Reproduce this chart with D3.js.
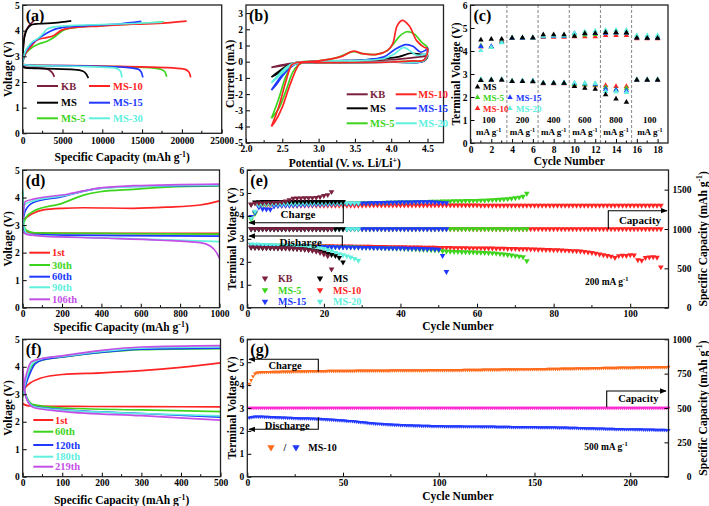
<!DOCTYPE html>
<html><head><meta charset="utf-8">
<script src="https://cdn.jsdelivr.net/npm/d3@7"></script>
<style>
body{margin:0;background:#fff}
svg{font-family:"Liberation Serif","Times New Roman",serif;font-weight:bold}
</style></head><body>
<svg id="c" width="709" height="506"></svg>
<script>
// ---------------- DATA ----------------
const seriesNames = ["KB","MS","MS-5","MS-10","MS-15","MS-20"];
// (a) first discharge / charge curves [capacity mAh/g, voltage V]
const aKB_d  = [[0,2.68],[200,2.58],[1500,2.55],[2800,2.52],[3400,2.45],[3800,2.32],[3980,2.2]];
const aKB_c  = [[0,2.9],[100,3.5],[300,3.9],[700,4.15],[1100,4.3],[1450,4.4]];
const aMS_d  = [[0,2.62],[300,2.55],[3000,2.52],[6500,2.48],[7600,2.42],[8000,2.3],[8250,2.15]];
const aMS_c  = [[0,3.0],[150,3.6],[400,3.95],[800,4.15],[1200,4.24],[2000,4.27],[4000,4.3],[6100,4.38]];
const aMS5_d = [[0,2.68],[1000,2.65],[8000,2.62],[14000,2.58],[17000,2.52],[17800,2.42],[18100,2.2]];
const aMS5_c = [[0,2.78],[200,3.0],[1000,3.3],[2000,3.48],[3000,3.58],[4000,3.75],[5000,4.0],[6500,4.12],[10000,4.2],[14000,4.26],[17700,4.34]];
const aMS10_d= [[0,2.68],[1000,2.66],[10000,2.62],[18000,2.56],[20300,2.5],[20900,2.38],[21100,2.18]];
const aMS10_c= [[0,2.78],[200,3.0],[1000,3.37],[1760,3.63],[3000,3.73],[3850,3.8],[4900,4.02],[6400,4.12],[9700,4.18],[13900,4.25],[18100,4.3],[20600,4.37]];
const aMS15_d= [[0,2.68],[1000,2.65],[8000,2.62],[13000,2.57],[14500,2.5],[14900,2.38],[15100,2.18]];
const aMS15_c= [[0,2.78],[200,3.05],[1000,3.45],[2000,3.7],[3000,3.9],[4000,4.05],[5500,4.15],[8000,4.2],[12000,4.26],[14900,4.36]];
const aMS30_d= [[0,2.68],[1000,2.65],[8000,2.6],[11500,2.55],[12200,2.45],[12400,2.3],[12450,2.18]];
const aMS30_c= [[0,2.78],[200,3.1],[1000,3.5],[2000,3.72],[2600,3.9],[3000,4.05],[4000,4.15],[6000,4.2],[10000,4.24],[14000,4.28],[17600,4.33]];
const aTicksX = [0,5000,10000,15000,20000,25000];

// (b) CV loops [potential V, current mA]
const bKB  = [[2.35,-0.35],[2.5,-0.2],[2.7,-0.05],[3.0,0],[3.5,0.05],[4.0,0.12],[4.3,0.25],[4.45,0.33],[4.5,0.35],[4.45,0.05],[4.0,-0.03],[3.0,-0.05],[2.7,-0.1],[2.5,-0.25],[2.35,-0.35]];
const bMS  = [[2.35,-0.95],[2.45,-0.6],[2.55,-0.3],[2.65,-0.1],[2.8,-0.02],[3.2,0.05],[3.6,0.1],[3.9,0.2],[4.1,0.3],[4.27,0.52],[4.4,0.45],[4.5,0.4],[4.45,0.05],[4.0,-0.02],[3.0,-0.05],[2.7,-0.1],[2.55,-0.4],[2.45,-0.7],[2.35,-0.95]];
const bMS5 = [[2.35,-3.5],[2.45,-2.3],[2.55,-0.9],[2.65,-0.15],[2.75,-0.02],[3.0,0.05],[3.25,0.25],[3.48,0.62],[3.6,0.5],[3.8,0.45],[3.95,0.7],[4.05,1.2],[4.12,1.6],[4.22,1.85],[4.32,1.7],[4.42,1.2],[4.5,0.85],[4.45,0.1],[4.3,0.05],[4.0,-0.02],[3.0,-0.06],[2.75,-0.12],[2.65,-0.6],[2.55,-1.8],[2.45,-2.9],[2.35,-3.5]];
const bMS10= [[2.35,-4.0],[2.45,-2.8],[2.55,-1.2],[2.63,-0.2],[2.7,-0.05],[3.0,0.05],[3.3,0.3],[3.48,0.65],[3.6,0.5],[3.8,0.45],[3.95,0.7],[4.02,1.1],[4.08,2.2],[4.15,2.55],[4.25,2.2],[4.35,1.3],[4.45,0.9],[4.5,0.8],[4.45,0.1],[4.3,0.05],[4.0,-0.02],[3.5,-0.05],[3.0,-0.06],[2.75,-0.1],[2.7,-0.4],[2.6,-1.5],[2.5,-2.8],[2.4,-3.7],[2.35,-4.0]];
const bMS15= [[2.35,-1.75],[2.45,-1.1],[2.55,-0.5],[2.65,-0.12],[2.8,-0.02],[3.2,0.05],[3.6,0.1],[3.9,0.3],[4.05,0.75],[4.2,1.05],[4.3,0.95],[4.4,0.6],[4.47,0.7],[4.5,0.85],[4.45,0.08],[4.0,-0.02],[3.0,-0.05],[2.7,-0.1],[2.6,-0.4],[2.5,-0.9],[2.42,-1.4],[2.35,-1.75]];
const bMS20= [[2.35,-1.3],[2.45,-0.8],[2.55,-0.35],[2.65,-0.08],[2.8,0],[3.2,0.05],[3.6,0.08],[3.9,0.2],[4.05,0.5],[4.17,0.88],[4.25,0.7],[4.35,0.4],[4.45,0.45],[4.5,0.5],[4.45,0.05],[4.0,-0.02],[3.0,-0.05],[2.7,-0.1],[2.6,-0.3],[2.5,-0.7],[2.35,-1.3]];
const bTicksX = [2.0,2.5,3.0,3.5,4.0,4.5];
const bTicksY = [-5,-4,-3,-2,-1,0,1,2,3];

// (c) rate test: terminal voltage per cycle (cycles 1..18)
const cRates = ["100","200","400","600","800","100"];
const cRateCenters = [1.75,5,8,11,14,17.25];
const cDividers = [3.5,6.5,9.5,12.5,15.5];
const cMS_c   = [4.48,4.51,4.52,4.57,4.58,4.58,4.71,4.71,4.71,4.64,4.76,4.77,4.81,4.81,4.80,4.57,4.56,4.56];
const cMS5_c  = [4.23,4.18,4.42,4.56,4.56,4.56,4.62,4.63,4.63,4.70,4.70,4.72,4.76,4.77,4.77,4.60,4.58,4.58];
const cMS10_c = [4.18,4.18,4.45,4.55,4.55,4.55,4.60,4.60,4.60,4.62,4.62,4.62,4.68,4.68,4.68,4.54,4.54,4.54];
const cMS15_c = [4.20,4.20,4.38,4.56,4.56,4.57,4.62,4.63,4.64,4.77,4.75,4.76,4.78,4.79,4.79,4.58,4.58,4.58];
const cMS20_c = [4.02,4.16,4.36,4.58,4.58,4.58,4.65,4.66,4.67,4.77,4.84,4.87,4.91,4.91,4.91,4.68,4.68,4.68];
const cMS_d   = [2.72,2.74,2.74,2.68,2.68,2.67,2.60,2.60,2.60,2.46,2.38,2.34,2.10,1.92,1.78,2.74,2.74,2.74];
const cMS5_d  = [2.74,2.74,2.75,2.69,2.69,2.69,2.60,2.59,2.60,2.55,2.54,2.52,2.42,2.32,2.38,2.74,2.74,2.75];
const cMS10_d = [2.73,2.73,2.74,2.68,2.68,2.68,2.58,2.58,2.58,2.52,2.53,2.49,2.50,2.46,2.46,2.73,2.73,2.73];
const cMS15_d = [2.74,2.74,2.75,2.69,2.70,2.70,2.60,2.61,2.61,2.59,2.58,2.56,2.34,2.31,2.28,2.74,2.74,2.74];
const cMS20_d = [2.76,2.76,2.76,2.70,2.70,2.70,2.62,2.62,2.62,2.60,2.60,2.59,2.24,2.23,2.20,2.76,2.76,2.76];

// (d) MS-10 selected cycles at 200 mA/g [capacity, voltage]
const d1_c  = [[0,3.18],[54,3.43],[105,3.55],[200,3.61],[310,3.63],[563,3.61],[732,3.65],[902,3.73],[1000,3.88]];
const d30_c = [[0,3.0],[20,3.3],[54,3.5],[200,3.79],[310,4.09],[393,4.21],[563,4.3],[732,4.38],[1000,4.42]];
const d60_c = [[0,3.1],[12,3.5],[54,3.82],[200,4.03],[310,4.23],[393,4.33],[563,4.4],[1000,4.44]];
const d90_c = [[0,3.2],[12,3.75],[54,3.88],[200,4.06],[360,4.3],[563,4.4],[1000,4.46]];
const d106_c= [[0,3.2],[12,3.85],[54,3.94],[226,4.12],[310,4.24],[393,4.35],[563,4.43],[1000,4.49]];
const d1_d  = [[0,2.9],[20,2.76],[60,2.71],[400,2.7],[1000,2.7]];
const d30_d = [[0,4.2],[5,3.0],[20,2.8],[60,2.72],[500,2.69],[1000,2.67]];
const d60_d = [[0,3.0],[15,2.7],[60,2.65],[500,2.62],[1000,2.6]];
const d90_d = [[0,4.3],[5,3.0],[20,2.7],[60,2.63],[500,2.52],[1000,2.4]];
const d106_d= [[0,2.75],[20,2.66],[100,2.6],[393,2.53],[700,2.45],[902,2.36],[953,2.24],[985,2.0],[1000,1.79]];
const dLabels = ["1st","30th","60th","90th","106th"];

// (e) cycling at 200 mA/g: terminal voltage per cycle; capacity per cycle (mAh/g)
const eKB_c = [4.50,4.55,4.56,4.56,4.57,4.57,4.58,4.58,4.60,4.64,4.70,4.76,4.77,4.77,4.78,4.78,4.79,4.80,4.83,4.88,4.92,5.05];
const eKB_d = [2.64,2.63,2.63,2.62,2.62,2.62,2.61,2.61,2.60,2.60,2.59,2.58,2.57,2.56,2.54,2.52,2.49,2.45,2.40,2.33,2.25,1.68];
const eKB_q = [1000,1000,1000,1000,1000,1000,1000,1000,1000,1000,1000,1000,1000,1000,1000,1000,1000,1000,1000,1000,1000,1000];
const eMS_c = [4.50,4.60,4.61,4.62,4.62,4.62,4.62,4.62,4.62,4.62,4.62,4.62,4.62,4.62,4.62,4.62,4.62,4.62,4.62,4.62,4.62,4.62,4.62,4.62,4.62];
const eMS_d = [2.62,2.61,2.61,2.60,2.60,2.60,2.60,2.59,2.59,2.59,2.58,2.58,2.57,2.56,2.55,2.53,2.51,2.48,2.45,2.41,2.36,2.31,2.26,2.18,1.98];
const eMS_q = [1000,1000,1000,1000,1000,1000,1000,1000,1000,1000,1000,1000,1000,1000,1000,1000,1000,1000,1000,1000,1000,1000,1000,1000,1000];
const eMS5_c = [3.85,4.10,4.45,4.48,4.49,4.50,4.50,4.50,4.51,4.51, 4.51,4.51,4.52,4.52,4.52,4.52,4.53,4.53,4.53,4.53,
  4.54,4.54,4.54,4.55,4.55,4.55,4.56,4.56,4.56,4.57, 4.57,4.57,4.58,4.58,4.58,4.59,4.59,4.59,4.60,4.60,
  4.60,4.61,4.61,4.61,4.62,4.62,4.62,4.63,4.63,4.63, 4.64,4.64,4.64,4.65,4.65,4.65,4.66,4.66,4.67,4.67,
  4.68,4.68,4.69,4.70,4.71,4.72,4.73,4.74,4.76,4.78, 4.81,4.85,4.98];
const eMS5_d = [2.74,2.73,2.72,2.72,2.71,2.71,2.71,2.70,2.70,2.70, 2.70,2.69,2.69,2.69,2.68,2.68,2.68,2.67,2.67,2.67,
  2.66,2.66,2.66,2.65,2.65,2.65,2.64,2.64,2.63,2.63, 2.62,2.62,2.61,2.61,2.60,2.60,2.59,2.59,2.58,2.58,
  2.57,2.56,2.56,2.55,2.54,2.53,2.53,2.52,2.51,2.50, 2.47,2.45,2.45,2.44,2.44,2.43,2.43,2.42,2.42,2.41,
  2.41,2.40,2.39,2.38,2.37,2.35,2.33,2.31,2.29,2.26, 2.24,2.21,2.04];
const eMS5_q = [1000,1000,1000,1000,1000,1000,1000,1000,1000,1000, 1000,1000,1000,1000,1000,1000,1000,1000,1000,1000,
  1000,1000,1000,1000,1000,1000,1000,1000,1000,1000, 1000,1000,1000,1000,1000,1000,1000,1000,1000,1000,
  1000,1000,1000,1000,1000,1000,1000,1000,1000,1000, 1000,1000,1000,1000,1000,1000,1000,1000,1000,1000,
  1000,1000,1000,1000,1000,1000,1000,1000,1000,1000, 1000,1000,1000];
const eMS10_c = [3.95,4.15,4.42,4.44,4.44,4.45,4.45,4.45,4.45,4.45, 4.46,4.46,4.46,4.46,4.46,4.46,4.46,4.46,4.46,4.46,
  4.46,4.46,4.46,4.46,4.46,4.46,4.46,4.46,4.46,4.46, 4.47,4.47,4.47,4.47,4.47,4.47,4.47,4.47,4.47,4.47,
  4.47,4.47,4.47,4.47,4.47,4.47,4.47,4.47,4.47,4.47, 4.47,4.47,4.47,4.47,4.47,4.47,4.47,4.47,4.47,4.47,
  4.46,4.46,4.46,4.46,4.46,4.46,4.46,4.46,4.46,4.46, 4.46,4.46,4.46,4.46,4.46,4.46,4.46,4.46,4.46,4.46,
  4.46,4.46,4.46,4.46,4.46,4.46,4.46,4.46,4.46,4.46, 4.46,4.46,4.46,4.46,4.46,4.46,4.46,4.46,4.46,4.46,
  4.46,4.46,4.46,4.46,4.46,4.46,4.46,4.46];
const eMS10_d = [2.75,2.74,2.73,2.73,2.72,2.72,2.72,2.72,2.71,2.71, 2.71,2.71,2.70,2.70,2.70,2.70,2.70,2.69,2.69,2.69,
  2.69,2.69,2.68,2.68,2.68,2.68,2.68,2.67,2.67,2.67, 2.67,2.67,2.66,2.66,2.66,2.66,2.65,2.65,2.65,2.65,
  2.65,2.64,2.64,2.64,2.64,2.63,2.63,2.63,2.63,2.62, 2.62,2.62,2.62,2.61,2.61,2.61,2.61,2.60,2.60,2.60,
  2.60,2.59,2.59,2.59,2.58,2.58,2.58,2.57,2.57,2.57, 2.56,2.56,2.56,2.55,2.55,2.54,2.54,2.53,2.53,2.52,
  2.52,2.51,2.50,2.49,2.48,2.47,2.46,2.44,2.42,2.40, 2.37,2.33,2.30,2.27,2.24,2.18,2.26,2.28,2.27,2.30,
  2.29,2.08,2.06,2.18,2.20,2.21,2.19,1.77];
const eMS10_q = [1000,1000,1000,1000,1000,1000,1000,1000,1000,1000, 1000,1000,1000,1000,1000,1000,1000,1000,1000,1000,
  1000,1000,1000,1000,1000,1000,1000,1000,1000,1000, 1000,1000,1000,1000,1000,1000,1000,1000,1000,1000,
  1000,1000,1000,1000,1000,1000,1000,1000,1000,1000, 1000,1000,1000,1000,1000,1000,1000,1000,1000,1000,
  1000,1000,1000,1000,1000,1000,1000,1000,1000,1000, 1000,1000,1000,1000,1000,1000,1000,1000,1000,1000,
  1000,1000,1000,1000,1000,1000,1000,1000,1000,1000, 1000,1000,1000,1000,1000,1000,1000,1000,1000,1000,
  1000,1000,1000,1000,1000,1000,1000,1000];
const eMS15_c = [3.97,4.15,4.38,4.30,4.29,4.28,4.42,4.44,4.45,4.46, 4.46,4.47,4.47,4.48,4.48,4.49,4.49,4.50,4.50,4.51,
  4.51,4.52,4.52,4.53,4.53,4.54,4.54,4.55,4.55,4.56, 4.56,4.57,4.57,4.58,4.58,4.58,4.59,4.59,4.59,4.60,
  4.60,4.60,4.60,4.61,4.61,4.61,4.61,4.61,4.60,4.59, 4.58,4.57];
const eMS15_d = [2.74,2.73,2.72,2.71,2.71,2.70,2.70,2.70,2.69,2.69, 2.69,2.68,2.68,2.68,2.67,2.67,2.67,2.66,2.66,2.66,
  2.65,2.65,2.65,2.64,2.64,2.64,2.63,2.63,2.63,2.62, 2.62,2.62,2.61,2.61,2.61,2.60,2.60,2.60,2.59,2.59,
  2.59,2.58,2.58,2.58,2.57,2.57,2.56,2.56,2.55,2.54, 2.27,1.57];
const eMS15_q = [1000,1000,1000,1000,1000,1000,1000,1000,1000,1000, 1000,1000,1000,1000,1000,1000,1000,1000,1000,1000,
  1000,1000,1000,1000,1000,1000,1000,1000,1000,1000, 1000,1000,1000,1000,1000,1000,1000,1000,1000,1000,
  1000,1000,1000,1000,1000,1000,1000,1000,1000,1000, 1000,1000];
const eMS20_c = [3.90,4.20,4.47,4.49,4.50,4.50,4.51,4.51,4.51,4.52, 4.52,4.52,4.52,4.53,4.53,4.53,4.53,4.54,4.54,4.54,
  4.54,4.55,4.55,4.55,4.55,4.56,4.56,4.56,4.56];
const eMS20_d = [2.77,2.76,2.76,2.75,2.75,2.74,2.74,2.73,2.73,2.72, 2.71,2.70,2.69,2.68,2.67,2.66,2.64,2.62,2.60,2.57,
  2.52,2.46,2.40,2.35,2.30,2.25,2.20,2.14,2.06];
const eMS20_q = [1000,1000,1000,1000,1000,1000,1000,1000,1000,1000, 1000,1000,1000,1000,1000,1000,1000,1000,1000,1000,
  1000,1000,1000,1000,1000,1000,1000,1000,1000];

// (f) MS-10 selected cycles at 500 mA/g
const f1_c  = [[0,3.15],[18,3.4],[44,3.58],[100,3.72],[200,3.78],[300,3.86],[400,3.98],[500,4.14]];
const f60_c = [[0,2.9],[10,3.5],[22,4.0],[44,4.22],[100,4.35],[200,4.52],[300,4.62],[500,4.66]];
const f120_c= [[0,3.0],[14,3.6],[31,4.1],[52,4.26],[100,4.36],[200,4.53],[300,4.64],[500,4.68]];
const f180_c= [[0,3.0],[12,3.7],[26,4.15],[50,4.3],[100,4.38],[200,4.56],[300,4.68],[500,4.72]];
const f219_c= [[0,3.1],[10,3.76],[22,4.18],[48,4.3],[100,4.4],[200,4.6],[300,4.72],[500,4.77]];
const f1_d  = [[0,2.65],[15,2.58],[100,2.56],[300,2.55],[500,2.54]];
const f60_d = [[0,3.3],[10,2.9],[27,2.62],[100,2.5],[300,2.43],[500,2.37]];
const f120_d= [[0,3.4],[10,2.85],[27,2.56],[100,2.44],[300,2.3],[500,2.17]];
const f180_d= [[0,3.5],[10,2.85],[27,2.55],[100,2.42],[300,2.3],[500,2.21]];
const f219_d= [[0,4.0],[8,2.9],[27,2.52],[100,2.38],[300,2.22],[500,2.06]];
const fLabels = ["1st","60th","120th","180th","219th"];

// (g) MS-10 at 500 mA/g, cycles 1..220
const gCharge = [4.05,4.22,4.38,4.50,4.54,4.55,4.56,4.56,4.57,4.57, 4.57,4.57,4.58,4.58,4.58,4.58,4.58,4.59,4.59,4.59,
  4.59,4.59,4.59,4.60,4.60,4.60,4.60,4.60,4.60,4.60, 4.60,4.61,4.61,4.61,4.61,4.61,4.61,4.61,4.61,4.61,
  4.61,4.62,4.62,4.62,4.62,4.62,4.62,4.62,4.62,4.62, 4.62,4.62,4.62,4.62,4.62,4.62,4.63,4.63,4.63,4.63,
  4.63,4.63,4.63,4.63,4.63,4.63,4.63,4.63,4.63,4.63, 4.63,4.63,4.63,4.63,4.64,4.64,4.64,4.64,4.64,4.64,
  4.64,4.64,4.64,4.64,4.64,4.64,4.64,4.64,4.64,4.64, 4.64,4.64,4.64,4.64,4.65,4.65,4.65,4.65,4.65,4.65,
  4.65,4.65,4.65,4.65,4.65,4.65,4.65,4.65,4.65,4.65, 4.65,4.65,4.66,4.66,4.66,4.66,4.66,4.66,4.66,4.66,
  4.66,4.66,4.67,4.67,4.67,4.67,4.67,4.67,4.67,4.67, 4.67,4.67,4.68,4.68,4.68,4.68,4.68,4.68,4.68,4.68,
  4.68,4.69,4.69,4.69,4.69,4.69,4.69,4.69,4.69,4.70, 4.70,4.70,4.70,4.70,4.70,4.70,4.71,4.71,4.71,4.71,
  4.71,4.71,4.71,4.72,4.72,4.72,4.72,4.72,4.72,4.72, 4.72,4.73,4.73,4.73,4.73,4.73,4.73,4.73,4.74,4.74,
  4.74,4.74,4.74,4.74,4.74,4.75,4.75,4.75,4.75,4.75, 4.75,4.75,4.75,4.76,4.76,4.76,4.76,4.76,4.76,4.76,
  4.76,4.76,4.77,4.77,4.77,4.77,4.77,4.77,4.77,4.77, 4.77,4.78,4.78,4.78,4.78,4.78,4.78,4.78,4.78,4.79];
const gDischarge = [2.58,2.60,2.61,2.62,2.62,2.62,2.62,2.62,2.61,2.61, 2.61,2.60,2.60,2.60,2.59,2.59,2.59,2.58,2.58,2.58,
  2.57,2.57,2.57,2.56,2.56,2.56,2.55,2.55,2.55,2.54, 2.54,2.54,2.53,2.53,2.53,2.52,2.52,2.52,2.51,2.51,
  2.50,2.50,2.49,2.49,2.48,2.48,2.47,2.47,2.46,2.46, 2.45,2.44,2.43,2.43,2.42,2.41,2.40,2.39,2.38,2.38,
  2.37,2.36,2.35,2.34,2.34,2.33,2.32,2.31,2.31,2.30, 2.29,2.29,2.28,2.28,2.27,2.27,2.26,2.26,2.26,2.25,
  2.25,2.25,2.24,2.24,2.24,2.24,2.23,2.23,2.23,2.23, 2.22,2.22,2.22,2.22,2.22,2.21,2.21,2.21,2.21,2.21,
  2.21,2.21,2.20,2.20,2.20,2.20,2.20,2.20,2.20,2.20, 2.20,2.20,2.19,2.19,2.19,2.19,2.19,2.19,2.19,2.19,
  2.19,2.18,2.18,2.18,2.18,2.18,2.18,2.18,2.18,2.17, 2.17,2.17,2.17,2.17,2.17,2.17,2.17,2.16,2.16,2.16,
  2.16,2.16,2.16,2.16,2.16,2.16,2.16,2.16,2.16,2.16, 2.16,2.15,2.15,2.15,2.15,2.15,2.15,2.15,2.15,2.15,
  2.15,2.14,2.14,2.14,2.14,2.14,2.14,2.13,2.13,2.13, 2.13,2.13,2.12,2.12,2.12,2.12,2.11,2.11,2.11,2.11,
  2.11,2.10,2.10,2.10,2.10,2.10,2.09,2.09,2.09,2.09, 2.09,2.08,2.08,2.08,2.08,2.08,2.07,2.07,2.07,2.07,
  2.07,2.06,2.06,2.06,2.06,2.06,2.05,2.05,2.05,2.05, 2.05,2.05,2.04,2.04,2.04,2.04,2.04,2.04,2.03,2.03];
const gCapacity = [500,500,500,500,500,500,500,500,500,500, 500,500,500,500,500,500,500,500,500,500,
  500,500,500,500,500,500,500,500,500,500, 500,500,500,500,500,500,500,500,500,500,
  500,500,500,500,500,500,500,500,500,500, 500,500,500,500,500,500,500,500,500,500,
  500,500,500,500,500,500,500,500,500,500, 500,500,500,500,500,500,500,500,500,500,
  500,500,500,500,500,500,500,500,500,500, 500,500,500,500,500,500,500,500,500,500,
  500,500,500,500,500,500,500,500,500,500, 500,500,500,500,500,500,500,500,500,500,
  500,500,500,500,500,500,500,500,500,500, 500,500,500,500,500,500,500,500,500,500,
  500,500,500,500,500,500,500,500,500,500, 500,500,500,500,500,500,500,500,500,500,
  500,500,500,500,500,500,500,500,500,500, 500,500,500,500,500,500,500,500,500,500,
  500,500,500,500,500,500,500,500,500,500, 500,500,500,500,500,500,500,500,500,500,
  500,500,500,500,500,500,500,500,500,500, 500,500,500,500,500,500,500,500,500,500];

// ---------------- DRAWING ----------------
const FONT = '"Liberation Serif","Times New Roman",serif';
const COL = {KB:"#7a1f3d", MS:"#000000", "MS-5":"#3cd41c", "MS-10":"#ff2424", "MS-15":"#2038ff", "MS-20":"#5ff0de", "MS-30":"#5ff0de",
  violet:"#c44fe6", orange:"#ff6a1a", magenta:"#ff2ad2"};
const svg = d3.select("#c");
svg.append("rect").attr("width",709).attr("height",506).attr("fill","#fff");
const defs = svg.append("defs");
defs.append("marker").attr("id","arr").attr("viewBox","0 0 10 10").attr("refX",9).attr("refY",5)
  .attr("markerWidth",6).attr("markerHeight",6).attr("orient","auto")
  .append("path").attr("d","M0,1 L10,5 L0,9 z").attr("fill","#000");

function rich(sel, parts, fs){
  let shifted = false;
  parts.forEach(p=>{
    const t = sel.append("tspan").text(p.t);
    if(p.sup && !shifted){ t.attr("dy", -fs*0.38); shifted = true; }
    else if(!p.sup && shifted){ t.attr("dy", fs*0.38); shifted = false; }
    if(p.sup) t.attr("font-size", fs*0.68);
    if(p.it) t.attr("font-style","italic");
  });
}
const capTitle = [{t:"Specific Capacity (mAh g"},{t:"-1",sup:true},{t:")"}];

function panel(o){
  const x = d3.scaleLinear().domain(o.xd).range([o.l,o.r]);
  const y = d3.scaleLinear().domain(o.yd).range([o.b,o.t]);
  const g = svg.append("g");
  const marks = g.append("g");
  // minor ticks midway between labelled bottom ticks
  const minors = d3.pairs(o.xt).map(p=>(p[0]+p[1])/2);
  g.append("g").selectAll("line").data(minors).join("line")
    .attr("x1",d=>x(d)).attr("x2",d=>x(d)).attr("y1",o.b).attr("y2",o.b-2.5).attr("stroke","#000");
  const ax = g.append("g").attr("transform",`translate(0,${o.b})`)
    .call(d3.axisBottom(x).tickValues(o.xt).tickFormat(o.xf||(d=>String(d))).tickSizeInner(-4).tickSizeOuter(0).tickPadding(o.xp||3));
  const ay = g.append("g").attr("transform",`translate(${o.l},0)`)
    .call(d3.axisLeft(y).tickValues(o.yt).tickFormat(o.yf||(d=>String(d))).tickSizeInner(-4).tickSizeOuter(0).tickPadding(3));
  const axes=[ax,ay];
  let y2=null;
  if(o.y2d){
    y2 = d3.scaleLinear().domain(o.y2d).range([o.b,o.t]);
    const ar = g.append("g").attr("transform",`translate(${o.r},0)`)
      .call(d3.axisRight(y2).tickValues(o.y2t).tickFormat(d=>String(d)).tickSizeInner(-4).tickSizeOuter(0).tickPadding(4));
    ar.selectAll("text").attr("text-anchor","end").attr("x",23);
    axes.push(ar);
  }
  axes.forEach(a=>{ a.attr("font-family",FONT).attr("font-size",9.5).attr("font-weight","bold"); a.select(".domain").remove();
    a.selectAll("line").attr("stroke-width",1); a.selectAll("text").attr("fill","#000"); });
  g.append("rect").attr("x",o.l).attr("y",o.t).attr("width",o.r-o.l).attr("height",o.b-o.t)
    .attr("fill","none").attr("stroke","#222").attr("stroke-width",1.3);
  g.append("text").attr("x",o.l+3).attr("y",o.t+16).attr("font-size",16).text(o.label);
  const xt = g.append("text").attr("x",(o.l+o.r)/2).attr("y",o.xty).attr("text-anchor","middle").attr("font-size",11.5);
  rich(xt, o.xtitle, 11.5);
  const yt = g.append("text").attr("transform",`translate(${o.ytx},${(o.t+o.b)/2}) rotate(-90)`).attr("text-anchor","middle")
    .attr("dominant-baseline","central").attr("font-size",11.5);
  rich(yt, o.ytitle, 11.5);
  if(o.y2title){
    const t2 = g.append("text").attr("transform",`translate(${o.y2tx},${(o.t+o.b)/2}) rotate(-90)`).attr("text-anchor","middle")
      .attr("dominant-baseline","central").attr("font-size",11.5);
    rich(t2, o.y2title, 11.5);
  }
  return {x,y,y2,g,marks};
}

function curve(p, data, color, curveType, w){
  const line = d3.line().x(d=>p.x(d[0])).y(d=>p.y(d[1])).curve(curveType||d3.curveMonotoneX);
  p.marks.append("path").attr("d",line(data)).attr("fill","none").attr("stroke",color).attr("stroke-width",w||1.7).attr("stroke-linejoin","round");
}
function legLine(p, x1, x2, y, color, label, tx){
  p.g.append("line").attr("x1",x1).attr("x2",x2).attr("y1",y).attr("y2",y).attr("stroke",color).attr("stroke-width",2);
  p.g.append("text").attr("x",tx).attr("y",y).attr("dominant-baseline","central").attr("font-size",10.5).attr("fill",color).text(label);
}
const tri = d3.symbol().type(d3.symbolTriangle);
function markers(p, vals, color, size, down, yscale){
  const ys = yscale||p.y;
  p.marks.append("g").selectAll("path").data(vals).join("path")
    .attr("d", tri.size(size)())
    .attr("transform",(d,i)=>`translate(${p.x(i+1)},${ys(d)})${down?" rotate(180)":""}`)
    .attr("fill",color);
}
function legTri(p,x,y,color,label,tx,size,down,fs,textColor){
  p.g.append("path").attr("d",tri.size(size)()).attr("transform",`translate(${x},${y})${down?" rotate(180)":""}`).attr("fill",color);
  p.g.append("text").attr("x",tx).attr("y",y).attr("dominant-baseline","central").attr("font-size",fs||9.5).attr("fill",textColor||color).text(label);
}
function bracket(p, pts){
  p.g.append("polyline").attr("points",pts.map(d=>d.join(",")).join(" ")).attr("fill","none")
    .attr("stroke","#000").attr("stroke-width",1.1).attr("marker-end","url(#arr)");
}
function note(p,x,y,txt,fs){ p.g.append("text").attr("x",x).attr("y",y).attr("text-anchor","middle").attr("dominant-baseline","central").attr("font-size",fs||11).text(txt); }

// ---- (a)
const pa = panel({l:22.7,r:221.7,t:5,b:133.3,xd:[0,25000],yd:[0,5],xt:aTicksX,yt:[0,1,2,3,4,5],label:"(a)",
  xty:161,xtitle:capTitle,ytx:8,ytitle:[{t:"Voltage (V)"}],xp:4});
[[aKB_d,aKB_c,"KB"],[aMS_d,aMS_c,"MS"],[aMS5_d,aMS5_c,"MS-5"],[aMS10_d,aMS10_c,"MS-10"],[aMS15_d,aMS15_c,"MS-15"],[aMS30_d,aMS30_c,"MS-30"]]
 .forEach(s=>{ curve(pa,s[0],COL[s[2]]); curve(pa,s[1],COL[s[2]]); });
legLine(pa,37,58,86,COL.KB,"KB",61);
legLine(pa,89,110,86,COL["MS-10"],"MS-10",113);
legLine(pa,37,58,102.7,COL.MS,"MS",61);
legLine(pa,89,110,102.7,COL["MS-15"],"MS-15",113);
legLine(pa,37,58,118.3,COL["MS-5"],"MS-5",61);
legLine(pa,89,110,118.3,COL["MS-30"],"MS-30",113);

// ---- (b)
const pb = panel({l:246,r:443.5,t:5,b:142.7,xd:[2.0,4.72],yd:[-5,3.5],xt:bTicksX,xf:d3.format(".1f"),yt:bTicksY,label:"(b)",
  xty:167,xtitle:[{t:"Potential (V. "},{t:"vs.",it:true},{t:" Li/Li"},{t:"+",sup:true},{t:")"}],ytx:230,ytitle:[{t:"Current (mA)"}],xp:3});
[[bKB,"KB"],[bMS,"MS"],[bMS5,"MS-5"],[bMS15,"MS-15"],[bMS20,"MS-20"],[bMS10,"MS-10"]]
 .forEach(s=>curve(pb,s[0],COL[s[1]],d3.curveCatmullRom.alpha(0.5)));
legLine(pb,346.7,367.7,94.3,COL.KB,"KB",370);
legLine(pb,395.7,416.7,94.3,COL["MS-10"],"MS-10",418.3);
legLine(pb,346.7,367.7,108.3,COL.MS,"MS",370);
legLine(pb,395.7,416.7,108.3,COL["MS-15"],"MS-15",418.3);
legLine(pb,346.7,367.7,123.3,COL["MS-5"],"MS-5",370);
legLine(pb,395.7,416.7,123.3,COL["MS-20"],"MS-20",418.3);

// ---- (c)
const pc = panel({l:470.5,r:668,t:5,b:143,xd:[0,19],yd:[0,6],xt:[0,2,4,6,8,10,12,14,16,18],yt:[0,1,2,3,4,5,6],label:"(c)",
  xty:165,xtitle:[{t:"Cycle Number"}],ytx:455.7,ytitle:[{t:"Terminal Voltage (V)"}],xp:3});
pc.marks.append("g").selectAll("line").data(cDividers).join("line")
  .attr("x1",d=>pc.x(d)).attr("x2",d=>pc.x(d)).attr("y1",5).attr("y2",143)
  .attr("stroke","#777").attr("stroke-width",0.9).attr("stroke-dasharray","3,2");
[[cMS10_c,cMS10_d,"MS-10"],[cMS5_c,cMS5_d,"MS-5"],[cMS15_c,cMS15_d,"MS-15"],[cMS20_c,cMS20_d,"MS-20"],[cMS_c,cMS_d,"MS"]]
 .forEach(s=>{ markers(pc,s[0],COL[s[2]],13,false); markers(pc,s[1],COL[s[2]],13,false); });
cRates.forEach((r,i)=>{
  const cx = pc.x(cRateCenters[i]);
  pc.g.append("text").attr("x",cx).attr("y",123).attr("text-anchor","middle").attr("font-size",9).text(r);
  const t = pc.g.append("text").attr("x",cx).attr("y",135).attr("text-anchor","middle").attr("font-size",9);
  rich(t,[{t:"mA g"},{t:"-1",sup:true}],9);
});
legTri(pc,477.5,87,COL.MS,"MS",483,13,false,9);
legTri(pc,477.5,97.5,COL["MS-5"],"MS-5",483,13,false,9);
legTri(pc,477.5,108.5,COL["MS-10"],"MS-10",483,13,false,9);
legTri(pc,510,97.5,COL["MS-15"],"MS-15",516,13,false,9);
legTri(pc,510,108.5,COL["MS-20"],"MS-20",516,13,false,9);

// ---- (d)
const pd = panel({l:22.7,r:219.5,t:170,b:307.7,xd:[0,1000],yd:[0,5],xt:[0,200,400,600,800,1000],yt:[0,1,2,3,4,5],label:"(d)",
  xty:331,xtitle:capTitle,ytx:8,ytitle:[{t:"Voltage (V)"}],xp:3});
const dCols = [COL["MS-10"],COL["MS-5"],COL["MS-15"],COL["MS-20"],COL.violet];
[[d1_d,d1_c],[d30_d,d30_c],[d60_d,d60_c],[d90_d,d90_c],[d106_d,d106_c]].forEach((s,i)=>{ curve(pd,s[0],dCols[i]); curve(pd,s[1],dCols[i]); });
[252.7,265,276.7,287.3,299.3].forEach((yy,i)=>legLine(pd,29.3,50,yy,dCols[i],dLabels[i],52));

// ---- (e)
const pe = panel({l:247.3,r:668.5,t:170,b:307.7,xd:[0,110],yd:[0,6],xt:[0,20,40,60,80,100],yt:[0,1,2,3,4,5,6],label:"(e)",
  xty:329.5,xtitle:[{t:"Cycle Number"}],ytx:231.7,ytitle:[{t:"Terminal Voltage (V)"}],
  y2d:[0,1750],y2t:[0,500,1000,1500],y2tx:703,y2title:capTitle,xp:3});
[[eMS10_c,eMS10_d,eMS10_q,"MS-10"],[eMS5_c,eMS5_d,eMS5_q,"MS-5"],[eMS15_c,eMS15_d,eMS15_q,"MS-15"],
 [eMS20_c,eMS20_d,eMS20_q,"MS-20"],[eMS_c,eMS_d,eMS_q,"MS"],[eKB_c,eKB_d,eKB_q,"KB"]].forEach(s=>{
  markers(pe,s[0],COL[s[3]],14,true);
  markers(pe,s[1],COL[s[3]],14,true);
  markers(pe,s[2],COL[s[3]],14,true,pe.y2);
});
bracket(pe,[[343.3,204],[343.3,222.7],[249,222.7]]); note(pe,298,214,"Charge");
bracket(pe,[[342.3,246],[342.3,236],[249,236]]); note(pe,300.7,241.5,"Disharge");
bracket(pe,[[608.3,229],[608.3,210.7],[667,210.7]]); note(pe,640,220,"Capacity");
{ const t = pe.g.append("text").attr("x",585).attr("y",281.7).attr("dominant-baseline","central").attr("font-size",9.5); rich(t,[{t:"200 mA g"},{t:"-1",sup:true}],9.5); }
legTri(pe,265,278.3,COL.KB,"KB",278,18,true,10);
legTri(pe,320,278.3,COL.MS,"MS",333,18,true,10);
legTri(pe,265,290,COL["MS-5"],"MS-5",278,18,true,10);
legTri(pe,320,290,COL["MS-10"],"MS-10",333,18,true,10);
legTri(pe,265,301.5,COL["MS-15"],"MS-15",278,18,true,10);
legTri(pe,320,301.5,COL["MS-20"],"MS-20",333,18,true,10);

// ---- (f)
const pf = panel({l:22.7,r:220.5,t:339.3,b:476.7,xd:[0,500],yd:[0,5],xt:[0,100,200,300,400,500],yt:[0,1,2,3,4,5],label:"(f)",
  xty:504,xtitle:capTitle,ytx:8,ytitle:[{t:"Voltage (V)"}],xp:3});
const fCols = [COL["MS-10"],COL["MS-5"],COL["MS-15"],COL["MS-20"],COL.violet];
[[f1_d,f1_c],[f60_d,f60_c],[f120_d,f120_c],[f180_d,f180_c],[f219_d,f219_c]].forEach((s,i)=>{ curve(pf,s[0],fCols[i]); curve(pf,s[1],fCols[i]); });
[420,431.7,445,456.7,466.7].forEach((yy,i)=>legLine(pf,33.3,53.3,yy,fCols[i],fLabels[i],55));

// ---- (g)
const pg = panel({l:247.3,r:668.5,t:339.3,b:476.7,xd:[0,220],yd:[0,6],xt:[0,50,100,150,200],yt:[0,1,2,3,4,5,6],label:"(g)",
  xty:499.5,xtitle:[{t:"Cycle Number"}],ytx:231.7,ytitle:[{t:"Terminal Voltage (V)"}],
  y2d:[0,1000],y2t:[0,250,500,750,1000],y2tx:703,y2title:capTitle,xp:3});
markers(pg,gCharge,COL.orange,7,true);
markers(pg,gDischarge,COL["MS-15"],7,true);
markers(pg,gCapacity,COL.magenta,7,true,pg.y2);
bracket(pg,[[318.3,371.7],[318.3,359.3],[249,359.3]]); note(pg,285,365,"Charge",10.5);
bracket(pg,[[318.3,417.3],[318.3,429.3],[249,429.3]]); note(pg,287.3,425,"Discharge",10.5);
bracket(pg,[[606.7,407.3],[606.7,391],[666,391]]); note(pg,638.3,398.3,"Capacity",10.5);
pg.g.append("path").attr("d",tri.size(24)()).attr("transform","translate(271,447.3) rotate(180)").attr("fill",COL.orange);
pg.g.append("text").attr("x",285).attr("y",447.3).attr("text-anchor","middle").attr("dominant-baseline","central").attr("font-size",10).text("/");
legTri(pg,296,447.3,COL["MS-15"],"MS-10",308.3,24,true,10,"#000");
{ const t = pg.g.append("text").attr("x",584.3).attr("y",447).attr("dominant-baseline","central").attr("font-size",9.5); rich(t,[{t:"500 mA g"},{t:"-1",sup:true}],9.5); }
</script>
</body></html>
